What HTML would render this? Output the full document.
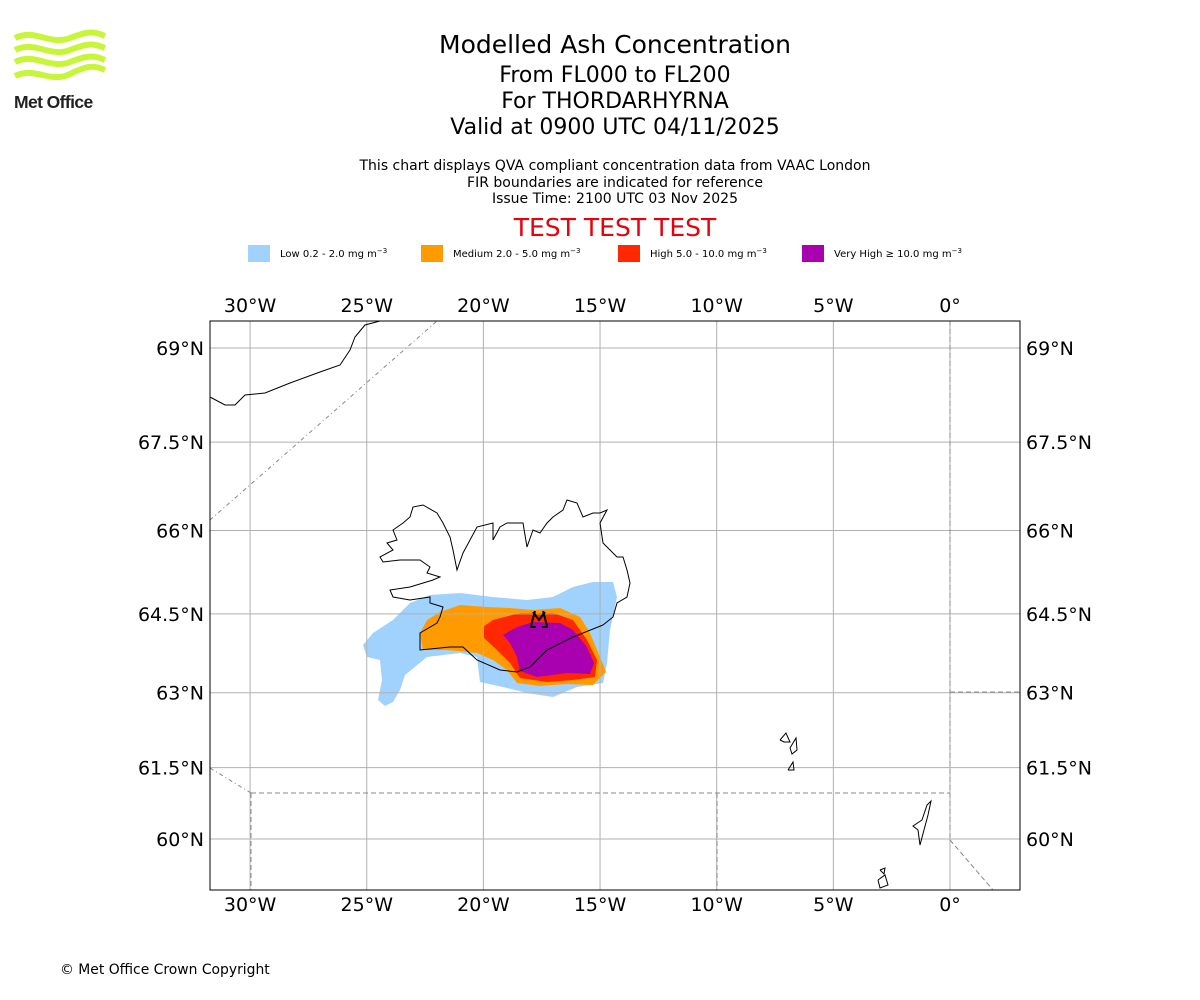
<!DOCTYPE html>
<html><head><meta charset="utf-8"><style>
body{margin:0;background:#fff;font-family:"DejaVu Sans","Liberation Sans",sans-serif;}
#wrap{position:relative;width:1200px;height:1000px;overflow:hidden;}
.t{position:absolute;left:15px;width:1200px;text-align:center;color:#000;}
</style></head><body>
<div id="wrap">
<div class="t" style="top:30px;font-size:25px">Modelled Ash Concentration</div>
<div class="t" style="top:63px;font-size:22px">From FL000 to FL200</div>
<div class="t" style="top:89px;font-size:22px">For THORDARHYRNA</div>
<div class="t" style="top:115px;font-size:22px">Valid at 0900 UTC 04/11/2025</div>
<div class="t" style="top:158px;font-size:14px;line-height:16.5px">This chart displays QVA compliant concentration data from VAAC London<br>FIR boundaries are indicated for reference<br>Issue Time: 2100 UTC 03 Nov 2025</div>
<div class="t" style="top:213px;font-size:25px;color:#e8000b">TEST TEST TEST</div>
<div class="t" style="top:962px;left:60px;width:auto;font-size:13.9px">© Met Office Crown Copyright</div>
<svg id="svg" width="1200" height="1000" style="position:absolute;left:0;top:0">
<g fill="none" stroke="#c8f53a" stroke-width="6">
<path d="M15,38 C35,28 50,46 70,38 S95,32 105,36"/>
<path d="M15,50 C35,40 50,58 70,50 S95,44 105,48"/>
<path d="M15,62 C35,52 50,70 70,62 S95,56 105,60"/>
<path d="M15,76 C35,66 50,84 70,74 S95,66 105,70"/>
</g>
<text x="14" y="108" font-family="Liberation Sans,sans-serif" font-weight="bold" font-size="17.5" fill="#222" letter-spacing="-0.6">Met Office</text>
<g id="legend"></g>
<defs><clipPath id="clip"><rect x="210" y="321" width="810" height="569"/></clipPath></defs>
<g id="map" clip-path="url(#clip)"></g>
<rect x="210" y="321" width="810" height="569" fill="none" stroke="#000" stroke-width="1"/>
<g id="ticks"></g>
</svg>
</div>
<script>
const lonTicks=[-30,-25,-20,-15,-10,-5,0];
const latTicks=[60,61.5,63,64.5,66,67.5,69];
const legendLabels=["Low 0.2 - 2.0 mg m","Medium 2.0 - 5.0 mg m","High 5.0 - 10.0 mg m","Very High \u2265 10.0 mg m"];
const legendColors=["#a0d2fd","#ff9b00","#ff2800","#a900b0"];
const legendX=[248,421,618,802];
const NS="http://www.w3.org/2000/svg";
function X(lon){return 950+lon*23.33;}
function merc(l){return Math.log(Math.tan(Math.PI/4+l*Math.PI/360));}
function Y(lat){return 348+(merc(69)-merc(lat))*1332;}
function mk(tag,attrs,parent){const e=document.createElementNS(NS,tag);for(const k in attrs)e.setAttribute(k,attrs[k]);parent.appendChild(e);return e;}
const svg=document.getElementById('svg'),map=document.getElementById('map'),ticks=document.getElementById('ticks'),leg=document.getElementById('legend');
legendLabels.forEach((l,i)=>{
 const r=mk('rect',{x:legendX[i],y:245,width:22,height:17,fill:legendColors[i]},leg);
 
 
 const t=mk('text',{x:legendX[i]+32,y:257,'font-size':10},leg);
 t.textContent=l;
 const s=mk('tspan',{dy:-4,'font-size':7},t);s.textContent='\u22123';
 
 
});
const plumes=[
 ["#a0d2fd","363,645 373,633 393,620 410,603 430,595 460,593 493,597 527,600 553,597 573,587 593,582 613,582 617,597 610,630 607,663 603,683 577,687 553,697 527,693 503,687 480,682 477,657 460,653 427,657 405,675 400,690 393,702 385,706 378,700 382,680 380,660 367,657"],
 ["#ff9b00","420,633 427,620 440,612 460,605 487,607 510,608 533,610 560,608 580,617 590,633 600,657 606,672 593,685 567,684 540,686 517,683 507,670 493,660 477,653 447,650 423,650"],
 ["#ff2800","483,627 493,620 520,613 553,613 573,620 587,640 597,660 595,677 573,680 547,682 520,678 510,663 497,650 483,637"],
 ["#a900b0","503,635 517,627 533,622 560,623 573,630 587,647 594,663 590,674 567,673 537,677 520,671 517,657 510,643"]
];
plumes.forEach(p=>{const e=mk('polygon',{points:p[1],fill:p[0]},map);
 
 });
lonTicks.forEach(v=>{const l=mk('line',{x1:X(v),x2:X(v),y1:321,y2:890,stroke:'#b0b0b0','stroke-width':1},map);
 
 });
latTicks.forEach(v=>{const l=mk('line',{x1:210,x2:1020,y1:Y(v),y2:Y(v),stroke:'#b0b0b0','stroke-width':1},map);
 
 });
const fir=[["210,520 437,321","4,3,1,3"],["210,768 251,793","4,3,1,3"],["251,793 251,890","5,3"],["251,793 950,793","5,3"],["717,793 717,890","5,3"],["950,321 950,840","5,3"],["950,692 1020,692","5,3"],["950,840 993,890","5,3"]];
fir.forEach(f=>{const e=mk('polyline',{points:f[0],fill:'none',stroke:'#888','stroke-width':1,'stroke-dasharray':f[1]},map);
 
 });
const coasts=[
 "603,625 573,637 547,650 530,667 517,672 500,670 477,660 463,647 450,647 420,650 420,633 437,623 440,617 443,607 430,603 430,597 410,600 393,597 390,590 410,587 433,580 440,577 427,573 430,567 420,560 400,560 383,562 380,557 393,550 387,543 397,540 393,530 403,523 410,517 413,507 423,505 437,513 443,523 450,537 453,550 457,570 463,553 477,527 493,523 493,540 500,527 507,523 523,523 527,547 533,530 540,533 547,523 553,517 563,510 567,500 577,503 583,517 593,513 600,513 607,510 600,523 603,543 617,557 623,557 627,570 630,583 627,597 617,603 613,617 603,625",
 "210,397 225,405 235,405 245,395 265,393 290,383 320,372 340,365 350,350 355,337 365,325 380,321",
 "780,740 786,733 790,742 784,742 780,740","790,748 796,738 797,750 792,754 790,748","788,770 793,762 794,770 788,770",
 "922,820 927,805 931,801 928,815 924,830 920,845 918,830 913,826 922,820","878,880 885,875 888,885 880,888 878,880","880,870 885,868 884,874 880,870"
];
coasts.forEach(c=>{const e=mk('polyline',{points:c,fill:'none',stroke:'#000','stroke-width':1},map);
 
 });
const vm=mk('path',{d:'M533,612 L539,620 L545,612 M535,611 L531,626 M543,611 L547,626 M530,627 L536,627 M542,627 L548,627',stroke:'#000','stroke-width':2,fill:'none'},map);


function lonLab(v){return v===0?'0°':Math.abs(v)+'°W';}
lonTicks.forEach(v=>{[312,911].forEach(y=>{const t=mk('text',{x:X(v),y:y,'text-anchor':'middle','font-size':19},ticks);t.textContent=lonLab(v);
 
 });});
latTicks.forEach(v=>{const lab=v+'°N';
 const a=mk('text',{x:204,y:Y(v)+7,'text-anchor':'end','font-size':19},ticks);a.textContent=lab;
 
 
 const b=mk('text',{x:1026,y:Y(v)+7,'text-anchor':'start','font-size':19},ticks);b.textContent=lab;
 
 });
</script>
</body></html>
